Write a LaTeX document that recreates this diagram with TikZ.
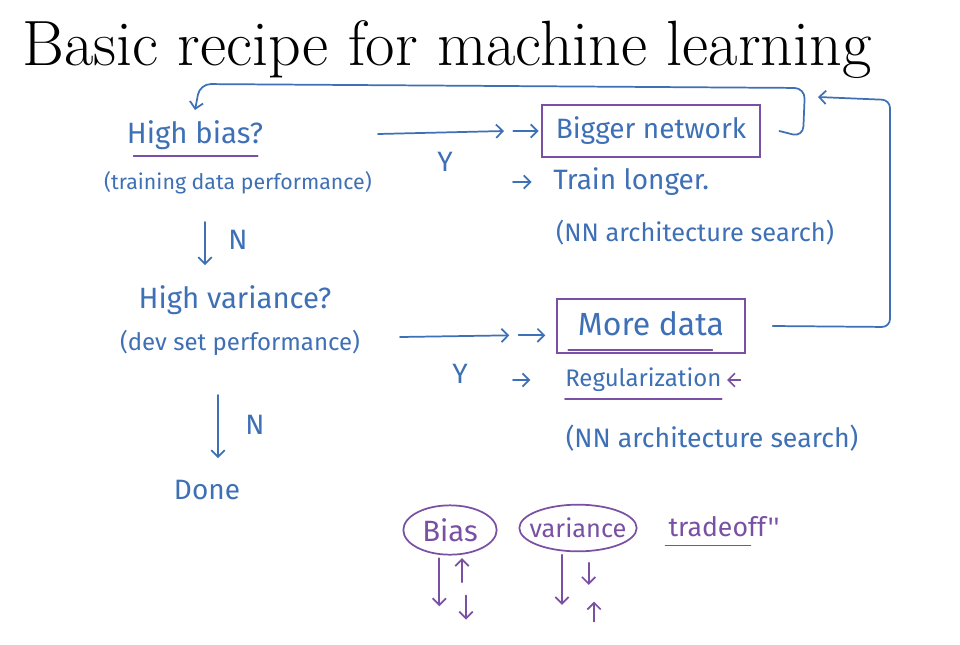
\documentclass[tikz,border=0pt]{standalone}
\usepackage{fontspec}
\newfontfamily\hand{Fira Sans}
\usetikzlibrary{arrows.meta,shapes.geometric}
\definecolor{pen}{RGB}{62,112,182}
\definecolor{vio}{RGB}{122,80,164}
\newcommand\hsz[1]{\hand\fontsize{#1}{#1}\selectfont}
\tikzset{
  hw/.style={text=pen, font=\hsz{21}, inner sep=0pt},
  hwv/.style={text=vio, font=\hsz{20}, inner sep=0pt},
  pline/.style={draw=pen, line width=1.3pt, line cap=round, line join=round},
  vline/.style={draw=vio, line width=1.3pt, line cap=round, line join=round},
  arr/.style={pline, -{Straight Barb[length=5pt,width=10pt]}},
  varr/.style={vline, -{Straight Barb[length=5pt,width=10pt]}},
  vbox/.style={draw=vio, line width=1.5pt, inner sep=0pt},
  vell/.style={ellipse, draw=vio, line width=1.3pt, inner sep=0pt}
}
\begin{document}
\begin{tikzpicture}[x=0.75pt,y=-0.75pt]
\path[use as bounding box, fill=white] (0,0) rectangle (960,644);
% title
\node[font=\fontsize{48}{50}\selectfont, anchor=base west, inner sep=0pt] (title) at (22,65) {Basic recipe for machine learning};

% left column
\node[hw, font=\hsz{22}] (hb) at (195,135) {High bias?};
\node[hw, font=\hsz{16}] (tdp) at (238,183) {(training data performance)};
\node[hw, font=\hsz{22}] (hv) at (235,300) {High variance?};
\node[hw, font=\hsz{18}] (dsp) at (240,343) {(dev set performance)};
\node[hw] (done) at (207,490) {Done};
\draw[vline] ([xshift=-46pt,yshift=-16pt]hb.center) -- ([xshift=47pt,yshift=-16pt]hb.center);

\coordinate (n1s) at (205,222);
\coordinate (n1e) at (205,265);
\draw[arr] (n1s) -- (n1e);
\node[hw] (n1) at (238,240) {N};
\coordinate (n2s) at (218,395);
\coordinate (n2e) at (218,458);
\draw[arr] (n2s) -- (n2e);
\node[hw] (n2) at (255,425) {N};

% right column, bias
\node[vbox, minimum width=163pt, minimum height=39pt] (bn) at (651,131) {};
\node[hw] (bnt) at (bn.center) {Bigger network};
\node[hw, anchor=west] (tl) at (553,182) {Train longer.};
\node[hw, font=\hsz{19}] (nn1) at (695,233) {(NN architecture search)};

\coordinate (y1s) at (378,134);
\draw[arr] (y1s) -- ([xshift=-28pt]bn.west);
\draw[arr] ([xshift=-21pt]bn.west) -- ([xshift=-2pt]bn.west);
\node[hw] (y1) at (445,162) {Y};
\draw[arr] ([xshift=-30pt]tl.west) -- ([xshift=-16pt]tl.west);

% right column, variance
\node[vbox, minimum width=141pt, minimum height=40pt] (md) at (651,326) {};
\node[hw, font=\hsz{24}] (mdt) at ([yshift=2pt]md.center) {More data};
\draw[vline] ([xshift=-62pt,yshift=-18pt]md.center) -- ([xshift=46pt,yshift=-18pt]md.center);
\node[hw, font=\hsz{18}, anchor=west] (reg) at (565,380) {Regularization};
\draw[vline] ([yshift=-5pt]reg.south west) -- ([yshift=-5pt]reg.south east);
\draw[varr] ([xshift=14pt]reg.east) -- ([xshift=4pt]reg.east);
\node[hw, font=\hsz{20}] (nn2) at (712,438) {(NN architecture search)};

\coordinate (y2s) at (400,337);
\draw[arr] (y2s) -- ([xshift=-35pt,yshift=-7pt]md.west);
\draw[arr] ([xshift=-28pt,yshift=-7pt]md.west) -- ([xshift=-8pt,yshift=-7pt]md.west);
\node[hw] (y2) at (460,374) {Y};
\draw[arr] ([xshift=-39pt]reg.west) -- ([xshift=-26pt]reg.west);

% loops
\coordinate (lp1) at (195,110);
\draw[arr, rounded corners=8pt] ([xshift=14pt]bn.east) -- (803,137) -- (805,88) -- (200,84) -- (lp1);
\coordinate (lp2) at (818,97);
\draw[arr, rounded corners=6pt] ([xshift=20pt]md.east) -- (890,327) -- (890,100) -- (lp2);

% bias / variance tradeoff
\node[vell, minimum width=70pt, minimum height=37pt] (bi) at (450,530) {};
\node[hwv, font=\hsz{22}] (bit) at (bi.center) {Bias};
\node[vell, minimum width=88pt, minimum height=35pt] (va) at (578,528) {};
\node[hwv, font=\hsz{19}] (vat) at (va.center) {variance};
\node[hwv] (to) at (724,527) {tradeoff''};
\draw[vline] ([xshift=-2pt,yshift=-6pt]to.south west) -- ([xshift=-22pt,yshift=-6pt]to.south east);

\draw[varr] ([xshift=-8pt,yshift=-2pt]bi.south) -- ++(0,48);
\draw[varr] ([xshift=9pt,yshift=-20pt]bi.south) -- ([xshift=9pt,yshift=-2pt]bi.south);
\draw[varr] ([xshift=12pt,yshift=-30pt]bi.south) -- ++(0,24);
\draw[varr] ([xshift=-12pt,yshift=-2pt]va.south) -- ++(0,50);
\draw[varr] ([xshift=8pt,yshift=-8pt]va.south) -- ++(0,22);
\draw[varr] ([xshift=12pt,yshift=-52pt]va.south) -- ++(0,-20);
\end{tikzpicture}
\end{document}
